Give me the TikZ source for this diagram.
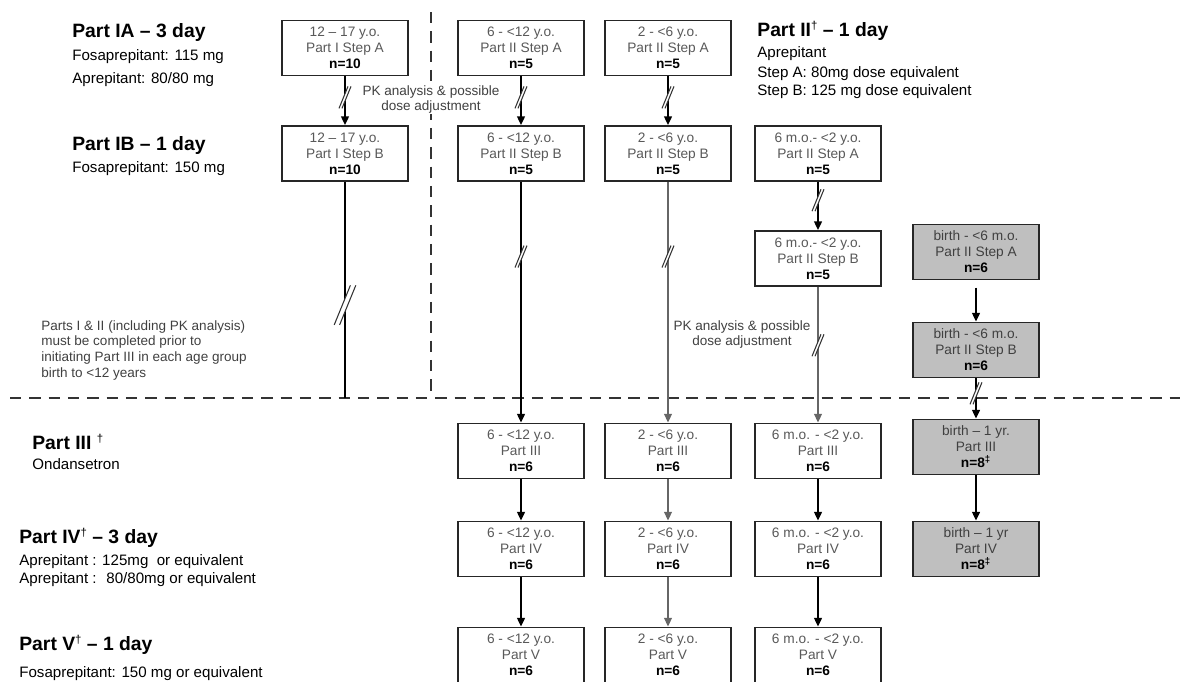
\documentclass[tikz,border=0pt]{standalone}
\usepackage{fontspec}
\setmainfont{Liberation Sans}
\usetikzlibrary{arrows.meta,calc}

\tikzset{
	grp/.style={draw=black!85, line width=1.1pt, fill=white, text=black!65, align=center, minimum width=2.52cm, minimum height=1.1cm, inner sep=0pt, font=\fontsize{7.8}{9.1}\selectfont},
	shd/.style={grp, fill=black!25, text=black!75},
	hdr/.style={anchor=base west, inner sep=0pt, font=\fontsize{11}{13}\selectfont\bfseries},
	sub/.style={anchor=base west, inner sep=0pt, font=\fontsize{8.6}{10.4}\selectfont},
	note/.style={inner sep=0pt, text=black!75, font=\fontsize{7.7}{9}\selectfont},
	lnk/.style={line width=1pt, -{Triangle[length=5pt,width=4.5pt]}},
	lgt/.style={lnk, draw=black!60, line width=.8pt},
	sep/.style={line width=1.4pt, draw=black!80, dash pattern=on 6.5pt off 4.5pt},
	brk/.pic={
		\fill[white] (-6,11) -- (3,-11) -- (6,-11) -- (-3,11) -- cycle;
		\draw[line width=.6pt, black!80] (-6,11) -- (3,-11) (-3,11) -- (6,-11);
	}
}

\begin{document}
\begin{tikzpicture}[x=0.02cm, y=-0.02cm]
	\useasboundingbox (0,0) rectangle (1180,681);
	
	\draw[sep] (10,398) -- (1180,398);
	\draw[sep] (431,12) -- (431,398);
	
	\node[hdr] (h1a) at (72,37) {Part IA -- 3 day};
	\node[sub] (h1a1) at (72,60) {Fosaprepitant: 115 mg};
	\node[sub] (h1a2) at (72,83) {Aprepitant: 80/80 mg};
	\node[hdr] (h1b) at (72,150) {Part IB -- 1 day};
	\node[sub] (h1b1) at (72,172) {Fosaprepitant: 150 mg};
	
	\node[hdr] (h2) at (757,36) {Part II\raisebox{3.6pt}{\mdseries\fontsize{6.5}{7}\selectfont †} -- 1 day};
	\node[sub] (h21) at (757,57) {Aprepitant};
	\node[sub] (h22) at (757,77) {Step A: 80mg dose equivalent};
	\node[sub] (h23) at (757,95) {Step B: 125 mg dose equivalent};
	
	\node[hdr] (h3) at (32,449) {Part III \raisebox{3.6pt}{\mdseries\fontsize{6.5}{7}\selectfont †}};
	\node[sub] (h31) at (32,469) {Ondansetron};
	\node[hdr] (h4) at (19,543) {Part IV\raisebox{3.6pt}{\mdseries\fontsize{6.5}{7}\selectfont †} -- 3 day};
	\node[sub] (h41) at (19,565) {Aprepitant : 125mg \ or equivalent};
	\node[sub] (h42) at (19,583) {Aprepitant : \ 80/80mg or equivalent};
	\node[hdr] (h5) at (19,650) {Part V\raisebox{3.6pt}{\mdseries\fontsize{6.5}{7}\selectfont †} -- 1 day};
	\node[sub] (h51) at (19,677) {Fosaprepitant: 150 mg or equivalent};
	
	\node[note, anchor=north west, align=left] (rule) at (41,320) {Parts I \& II (including PK analysis)\\must be completed prior to\\initiating Part III in each age group\\birth to <12 years};
	
	\node[grp] (a1) at (345,48) {12 -- 17 y.o.\\Part I Step A\\\textbf{\color{black}n=10}};
	\node[grp] (b1) at (345,153.5) {12 -- 17 y.o.\\Part I Step B\\\textbf{\color{black}n=10}};
	\node[grp] (a2) at (521,48) {6 - <12 y.o.\\Part II Step A\\\textbf{\color{black}n=5}};
	\node[grp] (b2) at (521,153.5) {6 - <12 y.o.\\Part II Step B\\\textbf{\color{black}n=5}};
	\node[grp] (a3) at (668,48) {2 - <6 y.o.\\Part II Step A\\\textbf{\color{black}n=5}};
	\node[grp] (b3) at (668,153.5) {2 - <6 y.o.\\Part II Step B\\\textbf{\color{black}n=5}};
	\node[grp] (b4) at (818,153.5) {6 m.o.- <2 y.o.\\Part II Step A\\\textbf{\color{black}n=5}};
	\node[grp] (c4) at (818,258.5) {6 m.o.- <2 y.o.\\Part II Step B\\\textbf{\color{black}n=5}};
	\node[shd] (g1) at (976,252) {birth - <6 m.o.\\Part II Step A\\\textbf{\color{black}n=6}};
	\node[shd] (g2) at (976,350) {birth - <6 m.o.\\Part II Step B\\\textbf{\color{black}n=6}};
	
	\node[grp] (d2) at (521,451) {6 - <12 y.o.\\Part III\\\textbf{\color{black}n=6}};
	\node[grp] (d3) at (668,451) {2 - <6 y.o.\\Part III\\\textbf{\color{black}n=6}};
	\node[grp] (d4) at (818,451) {6 m.o. - <2 y.o.\\Part III\\\textbf{\color{black}n=6}};
	\node[shd] (g3) at (976,447) {birth -- 1 yr.\\Part III\\\textbf{\color{black}n=8\textsuperscript{‡}}};
	
	\node[grp] (e2) at (521,549) {6 - <12 y.o.\\Part IV\\\textbf{\color{black}n=6}};
	\node[grp] (e3) at (668,549) {2 - <6 y.o.\\Part IV\\\textbf{\color{black}n=6}};
	\node[grp] (e4) at (818,549) {6 m.o. - <2 y.o.\\Part IV\\\textbf{\color{black}n=6}};
	\node[shd] (g4) at (976,549) {birth -- 1 yr\\Part IV\\\textbf{\color{black}n=8\textsuperscript{‡}}};
	
	\node[grp] (f2) at (521,655) {6 - <12 y.o.\\Part V\\\textbf{\color{black}n=6}};
	\node[grp] (f3) at (668,655) {2 - <6 y.o.\\Part V\\\textbf{\color{black}n=6}};
	\node[grp] (f4) at (818,655) {6 m.o. - <2 y.o.\\Part V\\\textbf{\color{black}n=6}};
	
	\coordinate (c1end) at (345,398);
	
	\draw[lnk] (a1) -- (b1);
	\draw[lnk] (a2) -- (b2);
	\draw[lnk] (a3) -- (b3);
	\draw[line width=1pt] (b1) -- (c1end);
	\draw[lnk] (b2) -- (d2);
	\draw[lgt] (b3) -- (d3);
	\draw[lnk] (b4) -- (c4);
	\draw[lgt] (c4) -- (d4);
	\draw[lnk, shorten <=4pt] (g1) -- (g2);
	\draw[lnk] (g2) -- (g3);
	
	\draw[lnk] (d2) -- (e2);
	\draw[lgt] (d3) -- (e3);
	\draw[lnk] (d4) -- (e4);
	\draw[lnk] (g3) -- (g4);
	\draw[lnk] (e2) -- (f2);
	\draw[lgt] (e3) -- (f3);
	\draw[lnk] (e4) -- (f4);
	
	\pic at ($(a1.south)!0.43!(b1.north)$) {brk};
	\pic at ($(a2.south)!0.43!(b2.north)$) {brk};
	\pic at ($(a3.south)!0.43!(b3.north)$) {brk};
	\pic[scale=1.8] at ($(b1.south)!0.57!(c1end)$) {brk};
	\pic at ($(b2.south)!0.31!(d2.north)$) {brk};
	\pic at ($(b3.south)!0.31!(d3.north)$) {brk};
	\pic at ($(b4.south)!0.38!(c4.north)$) {brk};
	\pic at ($(c4.south)!0.43!(d4.north)$) {brk};
	\pic at ($(g2.south)!0.37!(g3.north)$) {brk};
	
	\node[note, anchor=north, align=center, fill=white] (pk1) at (431,85) {PK analysis \& possible\\dose adjustment};
	\node[note, anchor=north, align=center] (pk2) at (742,320) {PK analysis \& possible\\dose adjustment};
\end{tikzpicture}
\end{document}
